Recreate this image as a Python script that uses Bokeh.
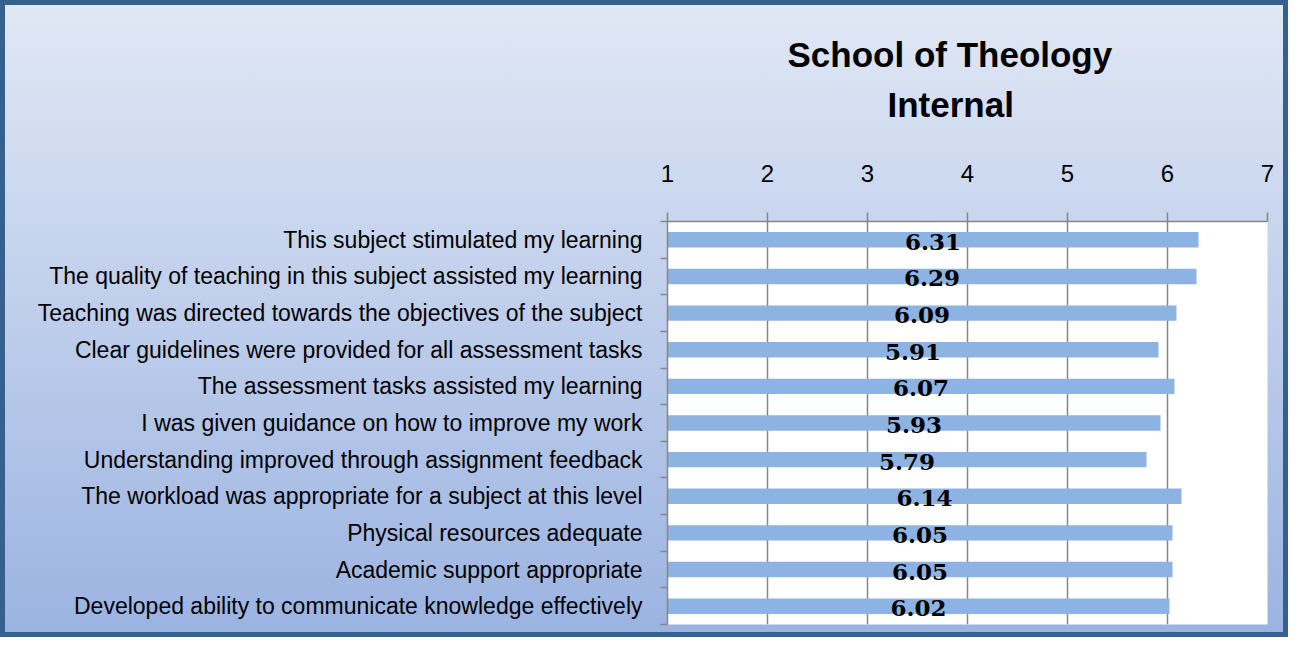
from bokeh.plotting import figure
from bokeh.models import Range1d, FixedTicker, ColumnDataSource, Title
from bokeh.core.properties import value
from bokeh.embed import file_html
from bokeh.resources import INLINE

labels = [
    "This subject stimulated my learning",
    "The quality of teaching in this subject assisted my learning",
    "Teaching was directed towards the objectives of the subject",
    "Clear guidelines were provided for all assessment tasks",
    "The assessment tasks assisted my learning",
    "I was given guidance on how to improve my work",
    "Understanding improved through assignment feedback",
    "The workload was appropriate for a subject at this level",
    "Physical resources adequate",
    "Academic support appropriate",
    "Developed ability to communicate knowledge effectively",
]
scores = [6.31, 6.29, 6.09, 5.91, 6.07, 5.93, 5.79, 6.14, 6.05, 6.05, 6.02]
x_ticks = [1, 2, 3, 4, 5, 6, 7]
x_min, x_max = 1, 7
title_lines = ["School of Theology", "Internal"]

SANS = "Liberation Sans"
GRAY = "#868686"

n = len(labels)
pos = list(range(n))
src = ColumnDataSource(dict(
    y=pos,
    v=scores,
    left=[x_min] * n,
    mid=[(x_min + s) / 2 for s in scores],
    txt=[f"{s:.2f}" for s in scores],
))

p = figure(width=1288, height=637, output_backend="svg", toolbar_location=None,
           x_range=Range1d(x_min, x_max), y_range=Range1d(n - 0.5, -0.5),
           x_axis_location="above", title=None,
           min_border_left=667, min_border_right=21, min_border_top=221, min_border_bottom=13)

p.hbar(y="y", left="left", right="v", height=0.42, source=src,
       fill_color="#8DB3E2", line_color=None)
p.text(x="mid", y="y", text="txt", source=src, text_align="center", text_baseline="middle",
       text_font=value("DejaVu Serif"), text_font_style="bold", text_font_size="23px",
       y_offset=2, text_color="black")

xa = p.xaxis[0]
xa.ticker = FixedTicker(ticks=x_ticks)
xa.major_label_text_font = SANS
xa.major_label_text_font_size = "24px"
xa.major_label_text_color = "black"
xa.major_tick_out = 9
xa.major_tick_in = 0
xa.minor_tick_out = 0
xa.minor_tick_in = 0
xa.axis_line_color = GRAY
xa.axis_line_width = 1.5
xa.major_tick_line_color = GRAY
xa.major_tick_line_width = 1.5
xa.major_label_standoff = 31

ya = p.yaxis[0]
ya.ticker = FixedTicker(ticks=pos, minor_ticks=[i - 0.5 for i in range(n + 1)])
ya.major_label_overrides = {i: labels[i] for i in pos}
ya.major_label_text_font = SANS
ya.major_label_text_font_size = "23px"
ya.major_label_text_color = "black"
ya.major_tick_out = 0
ya.major_tick_in = 0
ya.minor_tick_out = 7
ya.minor_tick_in = 0
ya.minor_tick_line_color = GRAY
ya.minor_tick_line_width = 1.5
ya.axis_line_color = GRAY
ya.axis_line_width = 1.5
ya.major_label_standoff = 18

p.xgrid.ticker = FixedTicker(ticks=x_ticks)
p.xgrid.grid_line_color = GRAY
p.xgrid.grid_line_width = 1.5
p.ygrid.visible = False

t2 = Title(text=title_lines[1], text_font=SANS, text_font_size="35px", text_font_style="bold",
           text_color="black", align="left", offset=220, standoff=75)
t1 = Title(text=title_lines[0], text_font=SANS, text_font_size="35px", text_font_style="bold",
           text_color="black", align="left", offset=120, standoff=-57)
p.add_layout(t2, "above")
p.add_layout(t1, "above")

p.outline_line_color = None
p.background_fill_color = "white"
p.border_fill_alpha = 0
p.styles = {
    "background": "linear-gradient(#E1E8F5, #9BB3E1)",
    "box-shadow": "inset 0 0 0 5px #36618F",
}

open("out.html", "w").write(file_html(p, INLINE))
